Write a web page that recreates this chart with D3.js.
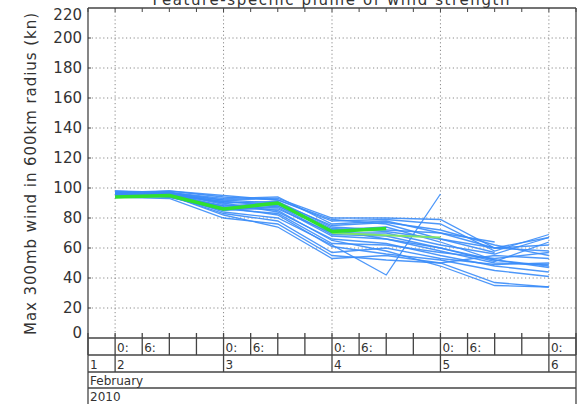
<!DOCTYPE html>
<html>
<head>
<meta charset="utf-8">
<script src="https://cdn.jsdelivr.net/npm/d3@7"></script>
<style>
  html, body { margin: 0; padding: 0; background: #fff; }
  svg { display: block; }
  text { font-family: "DejaVu Sans", sans-serif; fill: #333; }
</style>
</head>
<body>
<svg id="chart" width="586" height="404"></svg>
<script>
// Feature-specific plume of wind strength (ensemble members + mean), 12-hourly.

const times = [
  "2010-02-02T00:00Z", "2010-02-02T12:00Z", "2010-02-03T00:00Z", "2010-02-03T12:00Z",
  "2010-02-04T00:00Z", "2010-02-04T12:00Z", "2010-02-05T00:00Z", "2010-02-05T12:00Z",
  "2010-02-06T00:00Z"
];

// ensemble members (kn); null = feature not tracked
const members = [
  [97, 97, 92, 93, 80, 80, 79, 60, 67],
  [96, 98, 94, 92, 78, 79, 76, 58, 69],
  [95, 96, 88, 90, 75, 77, 72, 62, 55],
  [97, 94, 85, 88, 72, 66, 60, 52, 47],
  [96, 95, 86, 86, 70, 70, 62, 56, 67],
  [95, 97, 90, 91, 74, 72, 70, 64, null],
  [94, 93, 80, 76, 55, 52, 50, 37, 34],
  [98, 96, 84, 80, 62, 42, 96, null, null],
  [96, 95, 82, 74, 53, 55, 50, 55, 53],
  [97, 96, 90, 84, 66, 63, 55, 48, 44],
  [96, 97, 93, 94, 76, 78, 70, 60, 58],
  [95, 94, 88, 87, 68, 66, 58, 50, 49],
  [97, 98, 95, 92, 79, 76, 66, 60, 62],
  [96, 96, 91, 89, 72, 74, 64, 52, 48],
  [94, 95, 83, 78, 57, 60, 53, 49, 50],
  [98, 97, 89, 85, 65, 58, 48, 35, 34],
  [95, 96, 87, 82, 61, 56, 52, 45, 41],
  [96, 94, 86, 83, 63, 62, 57, 53, 57],
  [97, 95, 91, 88, 69, 68, 60, 51, 64],
  [95, 96, 92, 90, 73, 71, 66, 57, null]
];

const meanValues  = [94, 95, 86, 90, 71, 73, null, null, null];
const meanValues2 = [null, null, null, null, 70, null, 67, null, null];

const yTicks = [0, 20, 40, 60, 80, 100, 120, 140, 160, 180, 200, 220];
const gridValues = [20, 40, 60, 80, 100, 120, 140, 160, 180, 200];
const monthLabel = "February";
const yearLabel = "2010";
const title = "Feature-specific plume of wind strength";
const yTitle = "Max 300mb wind in 600km radius (kn)";

const LEFT = 88, RIGHT = 576, TOP = 8, BOTTOM = 338;
const ROW1 = 355, ROW2 = 372, ROW3 = 388;

const svg = d3.select("#chart");
const parse = d3.isoParse;

const x = d3.scaleUtc()
  .domain([parse("2010-02-01T18:00Z"), parse("2010-02-06T06:00Z")])
  .range([LEFT, RIGHT]);
const y = d3.scaleLinear().domain([0, 220]).range([BOTTOM, TOP]);

const grid = svg.append("g");
// horizontal dotted grid
grid.selectAll("line.h").data(gridValues).join("line")
  .attr("x1", LEFT).attr("x2", RIGHT)
  .attr("y1", d => y(d)).attr("y2", d => y(d))
  .attr("stroke", "#8a8a8a").attr("stroke-width", 1)
  .attr("stroke-dasharray", "1.2,2.6");

// vertical dotted grid at 00Z each day
const dayTicks = x.ticks(d3.utcDay.every(1));
grid.selectAll("line.v").data(dayTicks).join("line")
  .attr("x1", d => x(d)).attr("x2", d => x(d))
  .attr("y1", TOP).attr("y2", BOTTOM)
  .attr("stroke", "#8a8a8a").attr("stroke-width", 1)
  .attr("stroke-dasharray", "1.2,2.6");

// 6-hourly tick marks under the top frame
const sixHour = x.ticks(d3.utcHour.every(6));
grid.selectAll("line.t").data(sixHour).join("line")
  .attr("x1", d => x(d)).attr("x2", d => x(d))
  .attr("y1", TOP).attr("y2", TOP + 4)
  .attr("stroke", "#444").attr("stroke-width", 1);

// left small ticks at grid values
grid.selectAll("line.l").data(gridValues).join("line")
  .attr("x1", LEFT).attr("x2", LEFT + 3)
  .attr("y1", d => y(d)).attr("y2", d => y(d))
  .attr("stroke", "#444");

// series
const line = d3.line()
  .defined(d => d.v != null)
  .x(d => x(d.t)).y(d => y(d.v));

const toPts = arr => arr.map((v, i) => ({ t: parse(times[i]), v }));

svg.append("g").selectAll("path").data(members).join("path")
  .attr("d", d => line(toPts(d)))
  .attr("fill", "none")
  .attr("stroke", "#3a8cf8")
  .attr("stroke-width", 1.3)
  .attr("stroke-opacity", 0.9);

// mean skipping missing step (thin light green)
const pts2 = toPts(meanValues2).filter(d => d.v != null);
svg.append("path")
  .attr("d", d3.line().x(d => x(d.t)).y(d => y(d.v))(pts2))
  .attr("fill", "none").attr("stroke", "#7ee36a").attr("stroke-width", 2.2);

svg.append("path")
  .attr("d", line(toPts(meanValues)))
  .attr("fill", "none").attr("stroke", "#2fe02f").attr("stroke-width", 3.5)
  .attr("stroke-linejoin", "round");

// frame
const frame = svg.append("g").attr("stroke", "#444").attr("stroke-width", 1.3).attr("fill", "none");
frame.append("line").attr("x1", LEFT).attr("x2", RIGHT).attr("y1", TOP).attr("y2", TOP);
frame.append("line").attr("x1", LEFT).attr("x2", LEFT).attr("y1", TOP).attr("y2", 404);
frame.append("line").attr("x1", RIGHT).attr("x2", RIGHT).attr("y1", TOP).attr("y2", 404);
[BOTTOM, ROW1, ROW2, ROW3].forEach(yy => {
  frame.append("line").attr("x1", LEFT).attr("x2", RIGHT).attr("y1", yy).attr("y2", yy);
});

// time axis rows
frame.selectAll("line.ht").data(sixHour).join("line")
  .attr("x1", d => x(d)).attr("x2", d => x(d))
  .attr("y1", BOTTOM - 5)
  .attr("y2", d => d.getUTCHours() === 0 ? ROW2 : ROW1);

// only 00 and 06 labelled, and nothing past the right frame
const hourLabels = sixHour.filter(d =>
  (d.getUTCHours() === 0 || d.getUTCHours() === 6) && x(d) < RIGHT - 10);
svg.append("g").selectAll("text").data(hourLabels).join("text")
  .attr("x", d => x(d) + 2).attr("y", 352)
  .attr("font-size", 12)
  .text(d => d.getUTCHours() + ":");

const dayLabels = [parse("2010-02-01T18:00Z")].concat(dayTicks);
svg.append("g").selectAll("text").data(dayLabels).join("text")
  .attr("x", d => x(d) + 2).attr("y", 369)
  .attr("font-size", 12)
  .text(d => d.getUTCDate());

svg.append("text").attr("x", LEFT + 2).attr("y", 385).attr("font-size", 12).text(monthLabel);
svg.append("text").attr("x", LEFT + 2).attr("y", 401).attr("font-size", 12).text(yearLabel);

// y tick labels
svg.append("g").selectAll("text").data(yTicks).join("text")
  .attr("x", 82)
  .attr("y", d => Math.min(333, Math.max(15, y(d))))
  .attr("dy", "0.36em")
  .attr("text-anchor", "end")
  .attr("font-size", 15)
  .text(d => d);

// titles
svg.append("text")
  .attr("x", 331).attr("y", 5)
  .attr("text-anchor", "middle")
  .attr("font-size", 15)
  .attr("textLength", 357)
  .text(title);

svg.append("text")
  .attr("transform", "translate(36,174) rotate(-90)")
  .attr("text-anchor", "middle")
  .attr("font-size", 15)
  .attr("textLength", 322)
  .text(yTitle);
</script>
</body>
</html>
